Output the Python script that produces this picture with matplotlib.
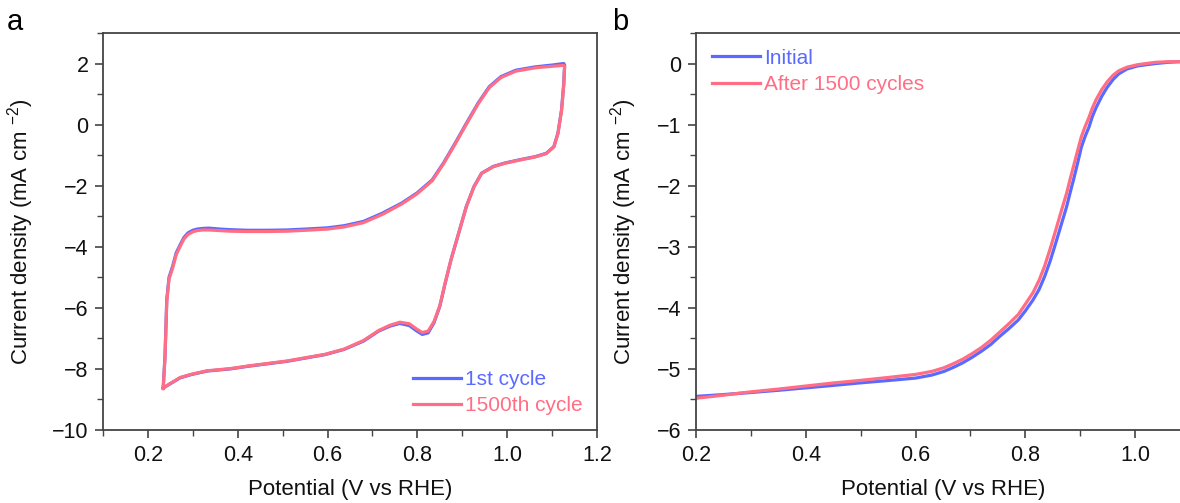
import numpy as np
import matplotlib
matplotlib.use("Agg")
import matplotlib.pyplot as plt
from matplotlib.ticker import MultipleLocator, FormatStrFormatter, FuncFormatter

plt.rcParams['font.family'] = ['Liberation Sans', 'DejaVu Sans']
plt.rcParams['mathtext.fontset'] = 'custom'
plt.rcParams['mathtext.rm'] = 'Liberation Sans'
plt.rcParams['mathtext.it'] = 'Liberation Sans:italic'

BLUE = '#5a69ff'
PINK = '#ff6e84'

# panel a: CV loop, 1st cycle (anodic branch then cathodic branch)
cv1_E = [0.234, 0.238, 0.242, 0.247, 0.255, 0.263, 0.272, 0.280, 0.289, 0.300, 0.310, 0.322,
         0.336, 0.360, 0.383, 0.420, 0.468, 0.510, 0.552, 0.600, 0.637, 0.680, 0.722, 0.765,
         0.799, 0.833, 0.858, 0.884, 0.909, 0.935, 0.960, 0.986, 1.019, 1.062, 1.100, 1.126,
         1.128, 1.127, 1.126, 1.121, 1.113, 1.104, 1.087, 1.062, 1.028, 0.994, 0.969, 0.943,
         0.926, 0.909, 0.892, 0.875, 0.862, 0.850, 0.837, 0.824, 0.811, 0.799, 0.782, 0.761,
         0.739, 0.714, 0.680, 0.637, 0.595, 0.510, 0.425, 0.383, 0.332, 0.298, 0.272, 0.247,
         0.234]
cv1_j = [-8.62, -7.60, -5.73, -5.00, -4.64, -4.20, -3.93, -3.70, -3.55, -3.46, -3.42, -3.40,
         -3.39, -3.42, -3.44, -3.46, -3.46, -3.45, -3.42, -3.38, -3.31, -3.17, -2.90, -2.57,
         -2.24, -1.81, -1.26, -0.61, 0.04, 0.70, 1.24, 1.57, 1.78, 1.89, 1.95, 2.00,
         1.95, 1.70, 1.35, 0.48, -0.28, -0.72, -0.94, -1.05, -1.15, -1.26, -1.37, -1.59,
         -2.03, -2.68, -3.55, -4.42, -5.19, -5.95, -6.49, -6.82, -6.87, -6.76, -6.58, -6.51,
         -6.60, -6.76, -7.09, -7.36, -7.53, -7.75, -7.91, -8.00, -8.07, -8.18, -8.29, -8.51,
         -8.62]

# panel a: 1500th cycle
cv2_E = cv1_E
cv2_j = [-8.64, -7.65, -5.80, -5.06, -4.70, -4.26, -3.98, -3.75, -3.60, -3.51, -3.47, -3.45,
         -3.45, -3.47, -3.49, -3.50, -3.50, -3.49, -3.46, -3.42, -3.35, -3.21, -2.94, -2.60,
         -2.27, -1.84, -1.29, -0.64, 0.01, 0.67, 1.21, 1.54, 1.75, 1.86, 1.91, 1.94,
         1.90, 1.65, 1.30, 0.45, -0.30, -0.73, -0.95, -1.06, -1.16, -1.27, -1.38, -1.60,
         -2.04, -2.69, -3.56, -4.42, -5.18, -5.93, -6.45, -6.76, -6.81, -6.70, -6.52, -6.47,
         -6.57, -6.74, -7.07, -7.35, -7.52, -7.74, -7.90, -7.99, -8.06, -8.17, -8.28, -8.50,
         -8.64]

# panel b: LSV before and after cycling
lsv_E = [0.200, 0.250, 0.295, 0.350, 0.400, 0.450, 0.497, 0.550, 0.600, 0.630, 0.652, 0.670,
         0.686, 0.703, 0.720, 0.737, 0.753, 0.770, 0.787, 0.800, 0.814, 0.825, 0.835, 0.845,
         0.855, 0.865, 0.875, 0.882, 0.889, 0.896, 0.902, 0.909, 0.916, 0.922, 0.929, 0.939,
         0.949, 0.960, 0.970, 0.985, 1.004, 1.020, 1.037, 1.060, 1.080, 1.100]
lsv_init = [-5.45, -5.42, -5.39, -5.35, -5.31, -5.27, -5.23, -5.19, -5.15, -5.10, -5.04, -4.97,
            -4.90, -4.81, -4.71, -4.60, -4.47, -4.34, -4.20, -4.05, -3.87, -3.70, -3.49, -3.24,
            -2.95, -2.65, -2.35, -2.10, -1.86, -1.60, -1.37, -1.19, -1.04, -0.87, -0.72, -0.54,
            -0.39, -0.26, -0.17, -0.09, -0.04, -0.02, 0.00, 0.02, 0.03, 0.03]
lsv_after = [-5.48, -5.43, -5.38, -5.33, -5.28, -5.23, -5.19, -5.14, -5.09, -5.04, -4.98, -4.91,
             -4.84, -4.75, -4.65, -4.53, -4.40, -4.26, -4.11, -3.94, -3.75, -3.55, -3.32, -3.04,
             -2.74, -2.43, -2.13, -1.88, -1.64, -1.40, -1.20, -1.03, -0.88, -0.73, -0.59, -0.43,
             -0.30, -0.19, -0.12, -0.06, -0.02, 0.00, 0.02, 0.03, 0.03, 0.03]

fig = plt.figure(figsize=(11.8, 5.03), dpi=100)
axa = fig.add_axes([103/1180, 1-430/503, 494/1180, 397/503])
axb = fig.add_axes([696/1180, 1-430/503, 494/1180, 397/503])

axa.plot(cv1_E, cv1_j, color=BLUE, lw=2.3, label='1st cycle')
axa.plot(cv2_E, cv2_j, color=PINK, lw=2.3, label='1500th cycle')
axb.plot(lsv_E, lsv_init, color=BLUE, lw=2.3, label='Initial')
axb.plot(lsv_E, lsv_after, color=PINK, lw=2.3, label='After 1500 cycles')

axa.set_xlim(0.1, 1.2)
axa.set_ylim(-10, 3)
axa.set_xticks([0.2, 0.4, 0.6, 0.8, 1.0, 1.2])
axa.xaxis.set_minor_locator(MultipleLocator(0.1))
axa.yaxis.set_major_locator(MultipleLocator(2))
axa.yaxis.set_minor_locator(MultipleLocator(1))

axb.set_xlim(0.2, 1.1)
axb.set_ylim(-6, 0.5)
axb.set_xticks([0.2, 0.4, 0.6, 0.8, 1.0])
axb.xaxis.set_minor_locator(MultipleLocator(0.1))
axb.yaxis.set_major_locator(MultipleLocator(1))
axb.yaxis.set_minor_locator(MultipleLocator(0.5))

for ax in (axa, axb):
    ax.xaxis.set_major_formatter(FormatStrFormatter('%.1f'))
    ax.yaxis.set_major_formatter(FuncFormatter(lambda v, p: ('%d' % round(v)).replace('-', '\u2212')))
    for s in ax.spines.values():
        s.set_color('#444444')
        s.set_linewidth(1.3)
    ax.tick_params(which='major', direction='out', length=6, width=1.2, color='#444444',
                   labelsize=15.5, pad=4.5, labelcolor='#111111')
    ax.tick_params(which='minor', direction='out', length=4, width=1.0, color='#444444')
    ax.set_xlabel('Potential (V vs RHE)', fontsize=16, labelpad=10, color='#111111')
    ax.set_ylabel('Current density (mA cm $^{-2}$)', fontsize=16, color='#111111')

axa.yaxis.set_label_coords(-0.136, 0.5)
axb.yaxis.set_label_coords(-0.115, 0.5)

axa.legend(loc='lower right', frameon=False, fontsize=15, handlelength=2.3,
           handletextpad=0.2, labelspacing=0.35, labelcolor='linecolor',
           borderaxespad=0.3)
axb.legend(loc='upper left', frameon=False, fontsize=15, handlelength=2.3,
           handletextpad=0.2, labelspacing=0.35, labelcolor='linecolor',
           borderaxespad=0.35)

fig.text(15/1180, 1-22/503, 'a', fontsize=21, ha='center', va='center')
fig.text(620/1180, 1-22/503, 'b', fontsize=21, ha='center', va='center')

fig.savefig('out.png', dpi=100)
